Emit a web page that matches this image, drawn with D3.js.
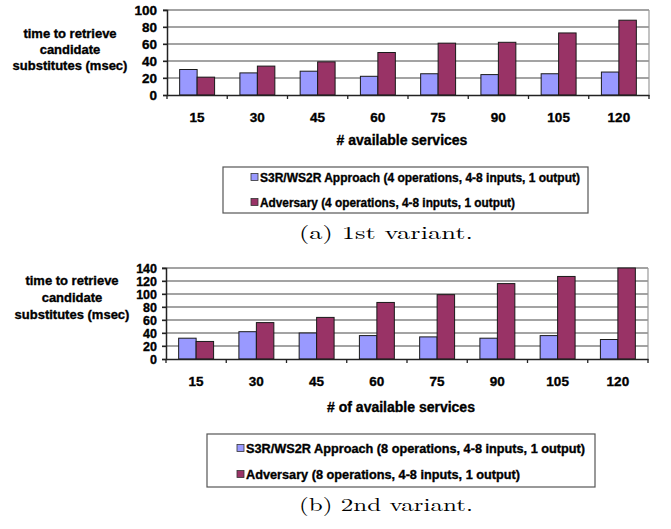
<!DOCTYPE html>
<html>
<head>
<meta charset="utf-8">
<script src="https://cdn.jsdelivr.net/npm/d3@7"></script>
<style>
  html, body { margin: 0; padding: 0; background: #fff; }
  svg { display: block; }
  .sans { font-family: "Liberation Sans", Arial, sans-serif; font-weight: bold; fill: #000; stroke: #000; stroke-width: 0.35px; }
  .serif { font-family: "Latin Modern Roman", "CMU Serif", "DejaVu Serif", "Liberation Serif", serif; fill: #000; }
</style>
</head>
<body>
<script>
// ---- data ----
const categories = ["15", "30", "45", "60", "75", "90", "105", "120"];

const variantA_S3R = [30, 26, 28, 22, 25, 24, 25, 27];
const variantA_Adversary = [21, 34, 39, 50, 61, 62, 73, 88];
const variantA_yTicks = [0, 20, 40, 60, 80, 100];

const variantB_S3R = [32, 42, 40, 36, 34, 32, 36, 30];
const variantB_Adversary = [27, 56, 64, 87, 99, 116, 127, 140];
const variantB_yTicks = [0, 20, 40, 60, 80, 100, 120, 140];

const yTitleLines = ["time to retrieve", "candidate", "substitutes (msec)"];
const xTitleA = "# available services";
const xTitleB = "# of available services";
const legendA = ["S3R/WS2R Approach (4 operations, 4-8 inputs, 1 output)", "Adversary (4 operations, 4-8 inputs, 1 output)"];
const legendB = ["S3R/WS2R Approach (8 operations, 4-8 inputs, 1 output)", "Adversary (8 operations, 4-8 inputs, 1 output)"];
const captionA = "(a) 1st variant.";
const captionB = "(b) 2nd variant.";

const colors = ["#9999FF", "#993366"];

const svg = d3.select("body").append("svg").attr("width", 671).attr("height", 529);

function drawChart(o) {
  const g = svg.append("g");
  const x = d3.scaleBand().domain(categories).range([o.left, o.right]).padding(0);
  const bw = x.bandwidth();
  const xi = d3.scaleBand().domain([0, 1]).range([bw * 0.21, bw * 0.79]).padding(0);
  const yMax = d3.max(o.yTicks);
  const y = d3.scaleLinear().domain([0, yMax]).range([o.bottom, o.top]);

  // gridlines
  g.append("g").selectAll("line").data(o.yTicks.filter(d => d > 0)).join("line")
    .attr("x1", o.left - 4).attr("x2", o.right)
    .attr("y1", d => y(d)).attr("y2", d => y(d))
    .attr("stroke", "#858585").attr("stroke-width", 1.4);
  // plot right border
  g.append("line").attr("x1", o.right).attr("x2", o.right)
    .attr("y1", y(yMax)).attr("y2", o.bottom)
    .attr("stroke", "#9a9a9a").attr("stroke-width", 1.2);

  // bars
  const series = [o.s1, o.s2];
  series.forEach((vals, si) => {
    g.append("g").selectAll("rect").data(vals).join("rect")
      .attr("x", (d, i) => x(categories[i]) + xi(si))
      .attr("width", xi.bandwidth())
      .attr("y", d => y(d))
      .attr("height", d => o.bottom - y(d))
      .attr("fill", colors[si])
      .attr("stroke", "#1a1a1a").attr("stroke-width", 1);
  });

  // y axis
  const yAxis = d3.axisLeft(y).tickValues(o.yTicks).tickSize(4).tickPadding(7).tickFormat(d3.format("d"));
  const ya = g.append("g").attr("transform", `translate(${o.left},0)`).call(yAxis);
  ya.select(".domain").attr("stroke", "#222").attr("stroke-width", 1.5);
  ya.selectAll(".tick line").attr("stroke", "#222").attr("stroke-width", 1.3);
  ya.selectAll(".tick text").attr("class", "sans").attr("font-size", o.yTickSize)
    .attr("font-family", null).attr("x", o.yLabelX - o.left).attr("dy", "0.36em");

  // x axis
  const xAxis = d3.axisBottom(x).tickSize(0).tickPadding(0);
  const xa = g.append("g").attr("transform", `translate(0,${o.bottom})`).call(xAxis);
  xa.select(".domain").attr("stroke", "#222").attr("stroke-width", 1.5);
  xa.selectAll(".tick text").attr("class", "sans").attr("font-family", null)
    .attr("font-size", 13.5).attr("y", o.xLabelY - o.bottom).attr("dy", 0);
  // category boundary ticks
  g.append("g").selectAll("line").data(d3.range(categories.length + 1)).join("line")
    .attr("x1", i => o.left + i * bw).attr("x2", i => o.left + i * bw)
    .attr("y1", o.bottom).attr("y2", o.bottom + 4)
    .attr("stroke", "#222").attr("stroke-width", 1.3);

  // axis titles
  yTitleLines.forEach((t, i) => {
    g.append("text").attr("class", "sans").attr("font-size", o.yTitleSize)
      .attr("text-anchor", "middle").attr("x", o.yTitleX).attr("y", o.yTitleY + i * o.yTitleGap)
      .text(t);
  });
  g.append("text").attr("class", "sans").attr("font-size", 14)
    .attr("text-anchor", "middle").attr("x", o.xTitleX).attr("y", o.xTitleY).text(o.xTitle);

  // legend
  const L = o.legend;
  g.append("rect").attr("x", L.x).attr("y", L.y).attr("width", L.w).attr("height", L.h)
    .attr("fill", "#fff").attr("stroke", "#555").attr("stroke-width", 1.2);
  o.legendTexts.forEach((t, i) => {
    const cy = L.rowY[i];
    g.append("rect").attr("x", L.mx).attr("y", cy - 3.5).attr("width", 7).attr("height", 7)
      .attr("fill", colors[i]).attr("stroke", "#333").attr("stroke-width", 0.8);
    g.append("text").attr("class", "sans").attr("font-size", 12.5)
      .attr("x", L.tx).attr("y", cy + 4.5).attr("textLength", L.tw[i]).attr("lengthAdjust", "spacingAndGlyphs")
      .text(t);
  });

  // caption
  g.append("text").attr("class", "serif").attr("font-size", 18)
    .attr("x", o.capX).attr("y", o.capY).attr("textLength", 174).attr("lengthAdjust", "spacingAndGlyphs")
    .text(o.caption);
}

drawChart({
  left: 167, right: 649, top: 10, bottom: 95,
  yTicks: variantA_yTicks, s1: variantA_S3R, s2: variantA_Adversary,
  yLabelX: 157, xLabelY: 122, yTickSize: 13.5,
  yTitleX: 70, yTitleY: 38, yTitleGap: 16, yTitleSize: 13,
  xTitle: xTitleA, xTitleX: 402, xTitleY: 145,
  legend: { x: 223, y: 167, w: 365, h: 46, rowY: [177, 202], mx: 251, tx: 260, tw: [320, 255] },
  legendTexts: legendA,
  caption: captionA, capX: 299, capY: 239
});

drawChart({
  left: 166, right: 648, top: 268, bottom: 359,
  yTicks: variantB_yTicks, s1: variantB_S3R, s2: variantB_Adversary,
  yLabelX: 157, xLabelY: 386, yTickSize: 12.5,
  yTitleX: 72, yTitleY: 285, yTitleGap: 17, yTitleSize: 13,
  xTitle: xTitleB, xTitleX: 401, xTitleY: 412,
  legend: { x: 207, y: 434, w: 388, h: 53, rowY: [448, 474], mx: 237, tx: 246, tw: [339, 274] },
  legendTexts: legendB,
  caption: captionB, capX: 299, capY: 511
});
</script>
</body>
</html>
